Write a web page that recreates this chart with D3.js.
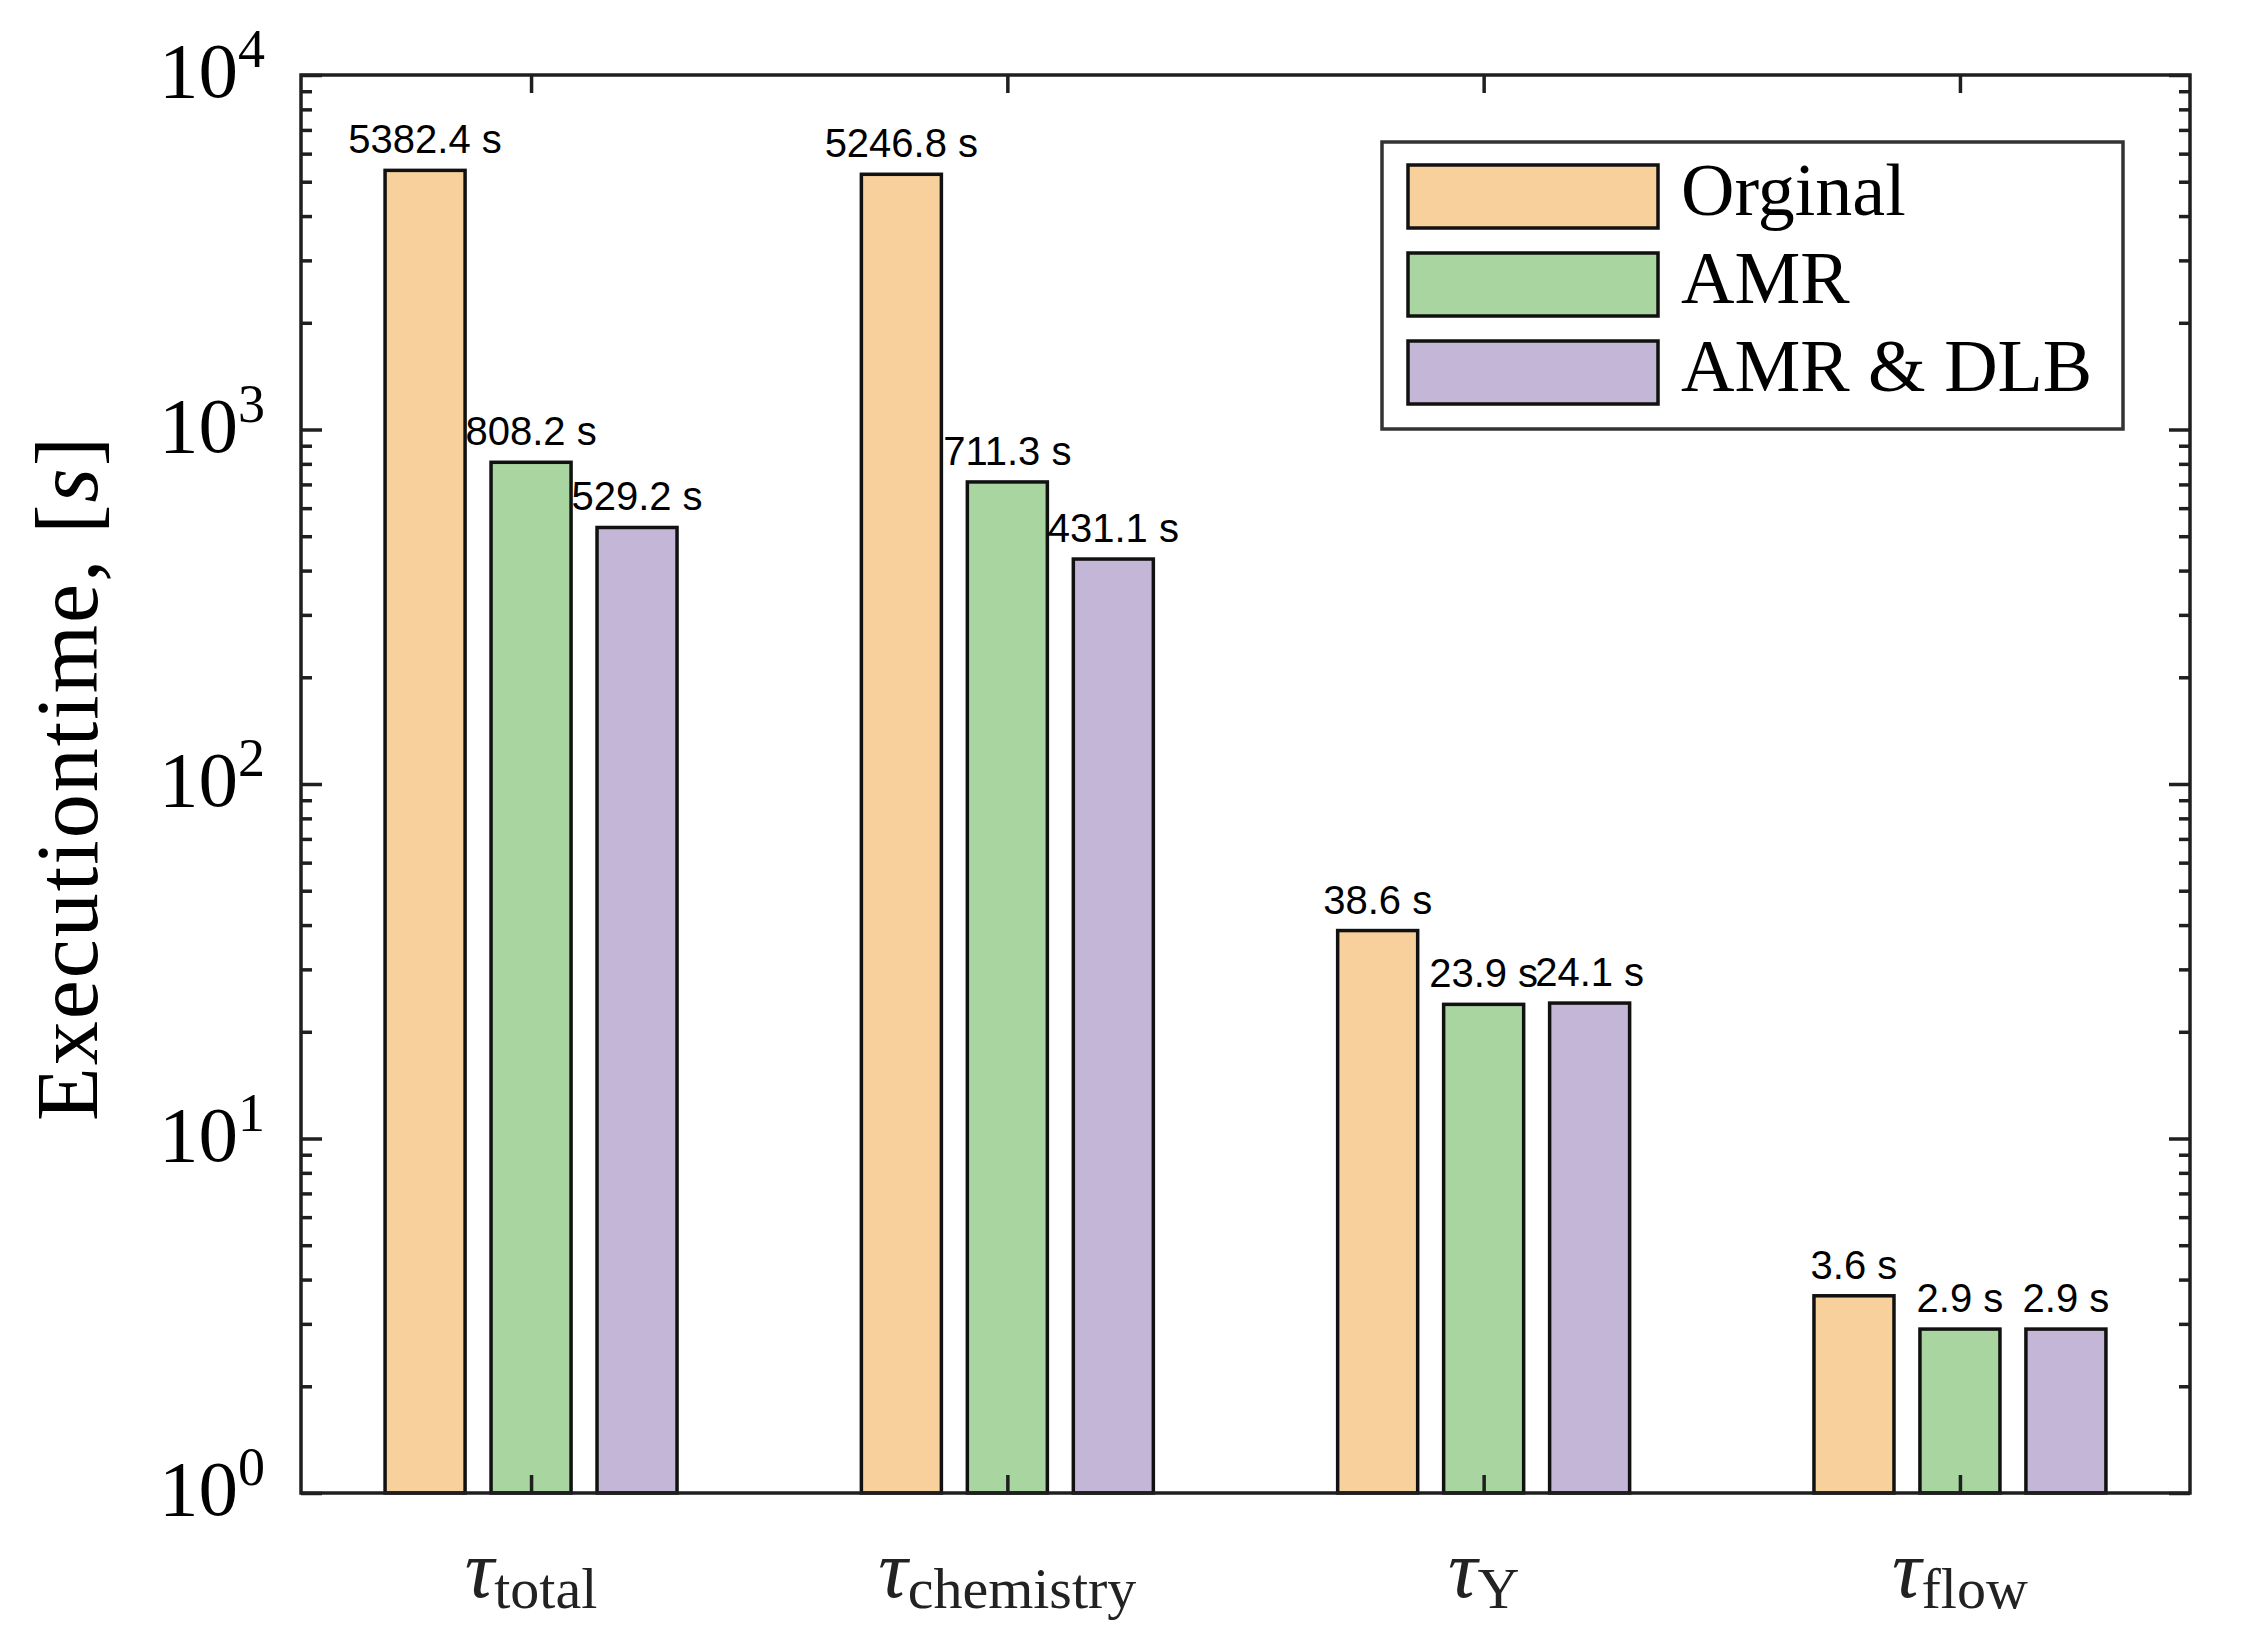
<!DOCTYPE html>
<html>
<head>
<meta charset="utf-8">
<script src="https://cdn.jsdelivr.net/npm/d3@7"></script>
<style>
  html, body { margin: 0; padding: 0; background: #fff; }
  svg { display: block; }
</style>
</head>
<body>
<svg id="chart" width="2258" height="1640"></svg>
<script>
// ---- data ----
const categories = ["total", "chemistry", "Y", "flow"];
const seriesNames = ["Orginal", "AMR", "AMR & DLB"];
const original = [5382.4, 5246.8, 38.6, 3.6];
const amr = [808.2, 711.3, 23.9, 2.9];
const amrDlb = [529.2, 431.1, 24.1, 2.9];
const yTickValues = [1, 10, 100, 1000, 10000];
const yTickExponents = ["0", "1", "2", "3", "4"];

// ---- layout / style ----
const W = 2258, H = 1640;
const plot = { left: 301, right: 2190, top: 75, bottom: 1493 };
const colors = ["#F8D09C", "#A9D5A1", "#C3B6D6"];
const axisColor = "#1f1f1f";
const serif = "'Liberation Serif', 'DejaVu Serif', serif";
const sans = "'Liberation Sans', Arial, sans-serif";

const svg = d3.select("#chart");

const x = d3.scaleLinear().domain([0.517, 4.483]).range([plot.left, plot.right]);
const y = d3.scaleLog().domain([1, 10000]).range([plot.bottom, plot.top]);

const groupOffset = 0.2225;
const barWidth = 0.168;

const allSeries = [original, amr, amrDlb];
const bars = [];
allSeries.forEach((vals, s) => {
  vals.forEach((v, i) => {
    bars.push({ s, i, v, cx: (i + 1) + (s - 1) * groupOffset });
  });
});

// bars
svg.append("g").selectAll("rect").data(bars).join("rect")
  .attr("x", d => x(d.cx - barWidth / 2))
  .attr("width", d => x(d.cx + barWidth / 2) - x(d.cx - barWidth / 2))
  .attr("y", d => y(d.v))
  .attr("height", d => y(1) - y(d.v))
  .attr("fill", d => colors[d.s])
  .attr("stroke", "#111")
  .attr("stroke-width", 3.5);

// value labels
const fmt = d3.format(".1f");
svg.append("g").selectAll("text").data(bars).join("text")
  .attr("x", d => x(d.cx))
  .attr("y", d => y(d.v) - 17)
  .attr("text-anchor", "middle")
  .attr("font-family", sans)
  .attr("font-size", 40)
  .attr("fill", "#000")
  .text(d => fmt(d.v) + " s");

// minor ticks
const minor = [];
for (let d = 0; d < 4; d++) for (let k = 2; k <= 9; k++) minor.push(k * Math.pow(10, d));

function styleAxis(g) {
  g.select(".domain").remove();
  g.selectAll(".tick line").attr("stroke", axisColor).attr("stroke-width", 3.5);
  g.selectAll(".tick text").remove();
}

// left axis ticks (inward)
svg.append("g").attr("transform", `translate(${plot.left},0)`)
  .call(d3.axisLeft(y).tickValues(yTickValues).tickSize(-21).tickFormat(""))
  .call(styleAxis);
svg.append("g").attr("transform", `translate(${plot.left},0)`)
  .call(d3.axisLeft(y).tickValues(minor).tickSize(-11).tickFormat(""))
  .call(styleAxis);
// right axis ticks (inward)
svg.append("g").attr("transform", `translate(${plot.right},0)`)
  .call(d3.axisRight(y).tickValues(yTickValues).tickSize(-21).tickFormat(""))
  .call(styleAxis);
svg.append("g").attr("transform", `translate(${plot.right},0)`)
  .call(d3.axisRight(y).tickValues(minor).tickSize(-11).tickFormat(""))
  .call(styleAxis);
// top & bottom category ticks (inward)
const catPos = categories.map((c, i) => i + 1);
svg.append("g").attr("transform", `translate(0,${plot.bottom})`)
  .call(d3.axisBottom(x).tickValues(catPos).tickSize(-18).tickFormat(""))
  .call(styleAxis);
svg.append("g").attr("transform", `translate(0,${plot.top})`)
  .call(d3.axisTop(x).tickValues(catPos).tickSize(-18).tickFormat(""))
  .call(styleAxis);

// box
svg.append("rect")
  .attr("x", plot.left).attr("y", plot.top)
  .attr("width", plot.right - plot.left).attr("height", plot.bottom - plot.top)
  .attr("fill", "none").attr("stroke", axisColor).attr("stroke-width", 3.5);

// y tick labels 10^n
const yl = svg.append("g");
yTickValues.forEach((v, i) => {
  const t = yl.append("text")
    .attr("x", 265)
    .attr("y", y(v) + 22)
    .attr("text-anchor", "end")
    .attr("font-family", serif)
    .attr("font-size", 79)
    .attr("fill", "#000");
  t.append("tspan").text("10");
  t.append("tspan").attr("font-size", 54).attr("dy", -30).text(yTickExponents[i]);
});

// x category labels: tau with subscript
const xl = svg.append("g");
categories.forEach((c, i) => {
  const t = xl.append("text")
    .attr("x", x(i + 1))
    .attr("y", 1597)
    .attr("text-anchor", "middle")
    .attr("font-family", serif)
    .attr("fill", "#222");
  t.append("tspan").attr("font-style", "italic").attr("font-size", 82).text("τ");
  t.append("tspan").attr("font-size", 58).attr("dy", 11).text(c);
});

// y axis title
const yt = svg.append("text")
  .attr("transform", `translate(97,${(plot.top + plot.bottom) / 2 - 6}) rotate(-90)`)
  .attr("text-anchor", "middle")
  .attr("font-family", serif)
  .attr("font-size", 88)
  .attr("letter-spacing", 2)
  .attr("fill", "#000");
yt.append("tspan").text("Executiontime, [");
yt.append("tspan").attr("font-style", "italic").text("s");
yt.append("tspan").text("]");

// legend
const lg = svg.append("g");
lg.append("rect")
  .attr("x", 1382).attr("y", 142).attr("width", 741).attr("height", 287)
  .attr("fill", "#fff").attr("stroke", "#333").attr("stroke-width", 3.5);
seriesNames.forEach((name, s) => {
  const top = 165 + s * 88;
  lg.append("rect")
    .attr("x", 1408).attr("y", top).attr("width", 250).attr("height", 63)
    .attr("fill", colors[s]).attr("stroke", "#111").attr("stroke-width", 3.5);
  lg.append("text")
    .attr("x", 1681).attr("y", top + 50)
    .attr("font-family", serif).attr("font-size", 74).attr("fill", "#000")
    .text(name);
});
</script>
</body>
</html>
